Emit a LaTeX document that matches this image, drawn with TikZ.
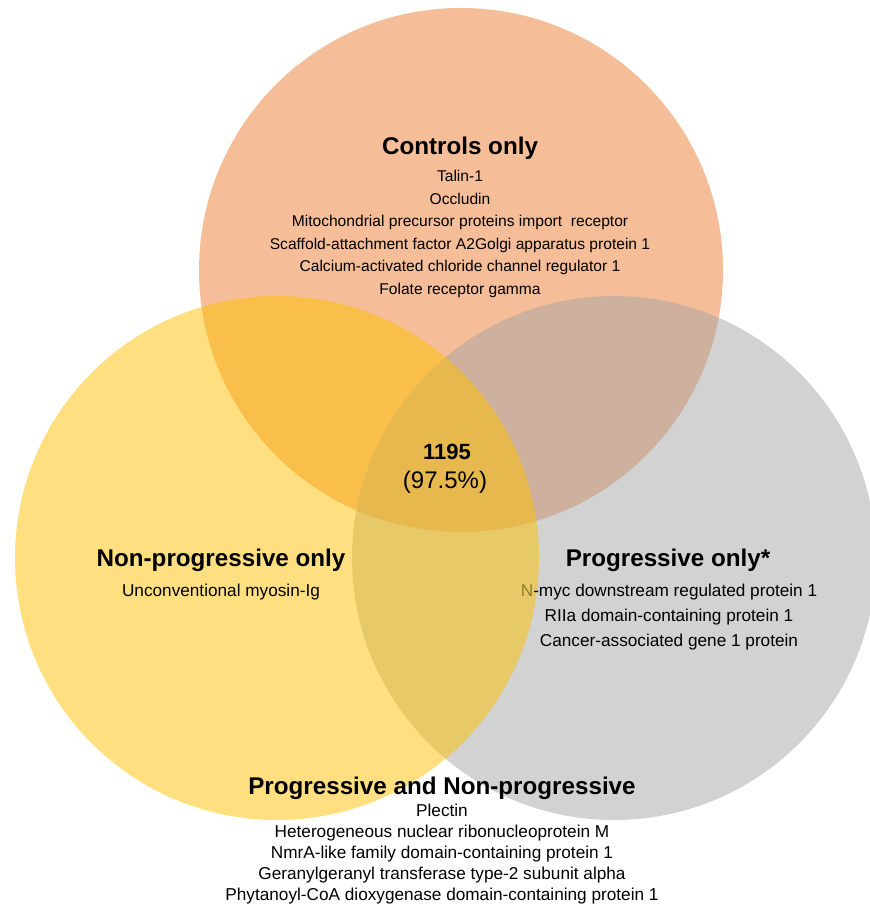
\documentclass[tikz,border=0pt]{standalone}
\usepackage{fontspec}
\setmainfont{Liberation Sans}

\definecolor{ctrlOrange}{HTML}{ED7D31}
\definecolor{progGrey}{HTML}{A5A5A5}
\definecolor{nonprogGold}{HTML}{FFC000}
\definecolor{nmycOlive}{HTML}{8F7A2E}

\tikzset{
  setCircle/.style={circle, minimum size=262pt, inner sep=0pt, draw=none, fill opacity=0.5},
  groupTitle/.style={inner sep=0pt, font=\fontsize{12.1}{14}\selectfont\bfseries},
  ctrlList/.style={inner sep=0pt, align=center, font=\fontsize{7.8}{11.25}\selectfont},
  sideList/.style={inner sep=0pt, align=center, font=\fontsize{8.6}{12.45}\selectfont},
  bottomList/.style={inner sep=0pt, align=center, font=\fontsize{8.6}{10.4}\selectfont}
}

\begin{document}
\begin{tikzpicture}[x=0.5pt, y=-0.5pt]
  \useasboundingbox (0,0) rectangle (870,908);
  \clip (0,0) rectangle (870,908);

  % the three sets
  \node[setCircle, fill=ctrlOrange] (ctrlSet) at (461,270) {};
  \node[setCircle, fill=progGrey] (progSet) at (614,558) {};
  \node[setCircle, fill=nonprogGold] (nonprogSet) at (277,558) {};

  % controls only
  \node[groupTitle] (ctrlTitle) at (460,148) {Controls only};
  \node[ctrlList] (ctrlItems) at (460,234) {Talin-1\\Occludin\\Mitochondrial precursor proteins import\ \ receptor\\Scaffold-attachment factor A2Golgi apparatus protein 1\\Calcium-activated chloride channel regulator 1\\Folate receptor gamma};

  % shared by all
  \node[inner sep=0pt, font=\fontsize{11}{13}\selectfont\bfseries] (allCount) at (447,452) {1195};
  \node[inner sep=0pt, font=\fontsize{12}{14}\selectfont] (allShare) at (445,482) {(97.5\%)};

  % non-progressive only
  \node[groupTitle] (nonprogTitle) at (221,560) {Non-progressive only};
  \node[sideList] (nonprogItems) at (221,592) {Unconventional myosin-Ig};

  % progressive only
  \node[groupTitle] (progTitle) at (668,560) {Progressive only*};
  \node[sideList] (progItems) at (669,617) {\textcolor{nmycOlive}{N}-myc downstream regulated protein 1\\RIIa domain-containing protein 1\\Cancer-associated gene 1 protein};

  % progressive and non-progressive
  \node[groupTitle] (bothTitle) at (442,788) {Progressive and Non-progressive};
  \node[bottomList] (bothItems) at (442,854) {Plectin\\Heterogeneous nuclear ribonucleoprotein M\\NmrA-like family domain-containing protein 1\\Geranylgeranyl transferase type-2 subunit alpha\\Phytanoyl-CoA dioxygenase domain-containing protein 1};
\end{tikzpicture}
\end{document}
